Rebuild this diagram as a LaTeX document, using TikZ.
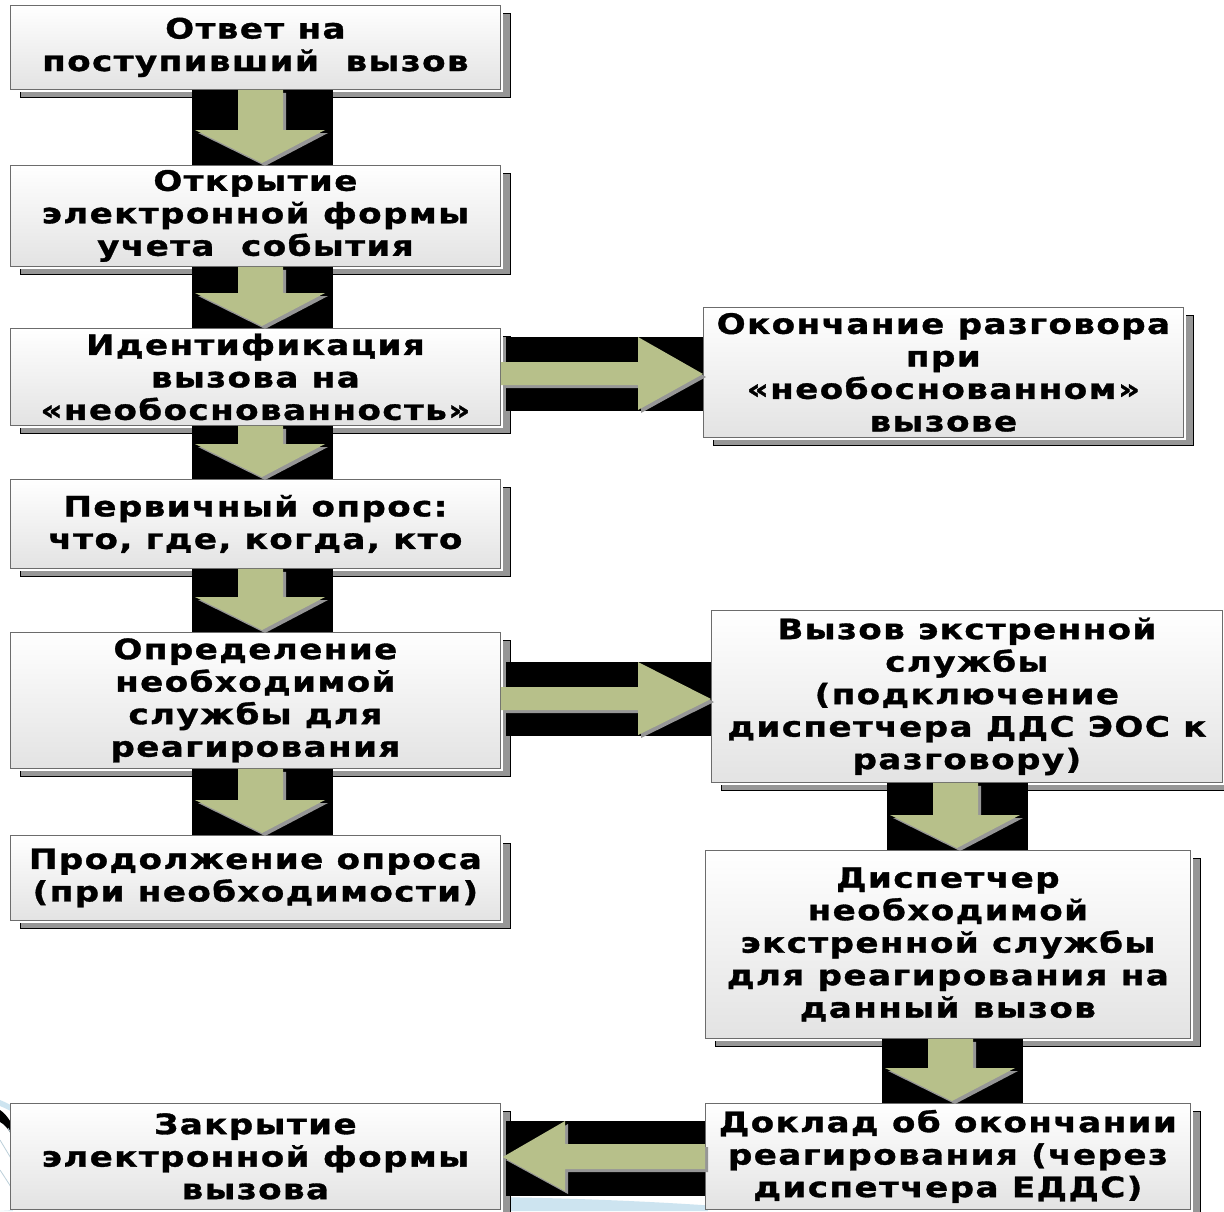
\documentclass[tikz,border=0pt]{standalone}
\usepackage{fontspec}
\newfontfamily\boxfont[FakeStretch=1.22,LetterSpace=5,FakeBold=1.2]{DejaVu Sans}
\usetikzlibrary{shadows,calc}
\definecolor{arrgreen}{RGB}{183,192,138}
\definecolor{shgray}{RGB}{150,150,150}
\definecolor{decoblue}{RGB}{205,228,240}
\newcommand\boxtext{\boxfont\bfseries\fontsize{28pt}{32.5pt}\selectfont}

\newcommand\dnarrow[3]{%
 \pgfmathsetmacro\aL{#1-70}\pgfmathsetmacro\aR{#1+71}%
 \pgfmathsetmacro\sL{#1-24}\pgfmathsetmacro\sR{#1+21}%
 \coordinate (dT) at (#1,0 |- #3.north);
 \coordinate (dH) at ($(dT)+(0,-35)$);
 \fill[band] (\aL,0 |- #2.south) rectangle (\aR,0 |- dT);
 \fill[gshadow] (\sL,0 |- #2.south) -- (\sR,0 |- #2.south) -- (\sR,0 |- dH) -- ($(dH)+(63,0)$) -- ($(dT)+(0,-2)$) -- ($(dH)+(-67,0)$) -- (\sL,0 |- dH) -- cycle;
 \fill[garrow] (\sL,0 |- #2.south) -- (\sR,0 |- #2.south) -- (\sR,0 |- dH) -- ($(dH)+(63,0)$) -- ($(dT)+(0,-2)$) -- ($(dH)+(-67,0)$) -- (\sL,0 |- dH) -- cycle;
}
\newcommand\rtarrow[4]{%
 \pgfmathsetmacro\bT{#1-37}\pgfmathsetmacro\bB{#1+37}%
 \pgfmathsetmacro\sT{#1-12}\pgfmathsetmacro\sB{#1+11}%
 \pgfmathsetmacro\hT{#1-37}\pgfmathsetmacro\hB{#1+36}%
 \fill[band] ($(#2.east |- 0,\bT)+(5,0)$) rectangle (#3.west |- 0,\bB);
 \fill[gshadow] (#2.east |- 0,\sT) -- (#4,\sT) -- (#4,\hT) -- (#3.west |- 0,#1) -- (#4,\hB) -- (#4,\sB) -- (#2.east |- 0,\sB) -- cycle;
 \fill[garrow] (#2.east |- 0,\sT) -- (#4,\sT) -- (#4,\hT) -- (#3.west |- 0,#1) -- (#4,\hB) -- (#4,\sB) -- (#2.east |- 0,\sB) -- cycle;
}
\newcommand\ltarrow[4]{%
 \pgfmathsetmacro\bT{#1-36}\pgfmathsetmacro\bB{#1+39}%
 \pgfmathsetmacro\sT{#1-13}\pgfmathsetmacro\sB{#1+12}%
 \pgfmathsetmacro\hT{#1-36}\pgfmathsetmacro\hB{#1+34}%
 \fill[band] ($(#3.east |- 0,\bT)+(5,0)$) rectangle (#2.west |- 0,\bB);
 \fill[gshadow] (#2.west |- 0,\sT) -- (#4,\sT) -- (#4,\hT) -- ($(#3.east |- 0,#1)+(2,0)$) -- (#4,\hB) -- (#4,\sB) -- (#2.west |- 0,\sB) -- cycle;
 \fill[garrow] (#2.west |- 0,\sT) -- (#4,\sT) -- (#4,\hT) -- ($(#3.east |- 0,#1)+(2,0)$) -- (#4,\hB) -- (#4,\sB) -- (#2.west |- 0,\sB) -- cycle;
}

\begin{document}
\begin{tikzpicture}[x=1pt,y=-1pt,
 box/.style={draw=gray!85!black, line width=0.8pt, top color=white, bottom color=gray!22,
   anchor=north west, inner sep=0pt, align=center, font=\boxtext,
   general shadow={fill=shgray, draw=black, line width=1pt, shadow xshift=10pt, shadow yshift=-8pt},
   general shadow={fill=white, shadow xshift=3pt, shadow yshift=-3pt}},
 band/.style={fill=black},
 garrow/.style={fill=arrgreen},
 gshadow/.style={fill=shgray, transform canvas={shift={(3pt,-3pt)}}}
]
\useasboundingbox (0,0) rectangle (1224,1211);
\fill[white] (0,0) rectangle (1224,1211);

% background decoration (slide template, bottom left)
\fill[decoblue] (0,1211) .. controls (250,1196) and (520,1188) .. (780,1211) -- cycle;
\fill[decoblue] (0,1100) .. controls (10,1104) and (20,1110) .. (30,1118) -- (30,1124) .. controls (20,1116) and (10,1110) .. (0,1106) -- cycle;
\fill[black] (0,1110) .. controls (6,1114) and (12,1122) .. (16,1134) -- (12,1136) .. controls (8,1128) and (4,1124) .. (0,1122) -- cycle;
\draw[decoblue!80!gray, line width=0.8pt] (0,1140) .. controls (15,1165) and (30,1190) .. (42,1211);
\draw[decoblue!80!gray, line width=0.8pt] (0,1170) .. controls (10,1185) and (18,1198) .. (24,1211);
\draw[decoblue!80!gray, line width=0.8pt] (8,1128) .. controls (25,1160) and (45,1190) .. (60,1211);

% left column
\node[box, minimum width=490, minimum height=84] (b1) at (10,5) {Ответ на\\поступивший~ вызов};
\node[box, minimum width=490, minimum height=101] (b2) at (10,165) {Открытие\\электронной формы\\учета~ события};
\node[box, minimum width=490, minimum height=97] (b3) at (10,328) {Идентификация\\вызова на\\«необоснованность»};
\node[box, minimum width=490, minimum height=89] (b4) at (10,479) {Первичный опрос:\\что, где, когда, кто};
\node[box, minimum width=490, minimum height=136] (b5) at (10,632) {Определение\\необходимой\\службы для\\реагирования};
\node[box, minimum width=490, minimum height=85] (b6) at (10,835) {Продолжение опроса\\(при необходимости)};
\node[box, minimum width=490, minimum height=106] (b7) at (10,1103) {Закрытие\\электронной формы\\вызова};

% right column
\node[box, minimum width=480, minimum height=130] (r1) at (703,307) {Окончание разговора\\при\\«необоснованном»\\вызове};
\node[box, minimum width=511, minimum height=172] (r2) at (711,610) {Вызов экстренной\\службы\\(подключение\\диспетчера ДДС ЭОС к\\разговору)};
\node[box, minimum width=485, minimum height=188] (r3) at (705,850) {Диспетчер\\необходимой\\экстренной службы\\для реагирования на\\данный вызов};
\node[box, minimum width=485, minimum height=106] (r4) at (705,1103) {Доклад об окончании\\реагирования (через\\диспетчера ЕДДС)};

% arrows
\dnarrow{262}{b1}{b2}
\dnarrow{262}{b2}{b3}
\dnarrow{262}{b3}{b4}
\dnarrow{262}{b4}{b5}
\dnarrow{262}{b5}{b6}
\dnarrow{957}{r2}{r3}
\dnarrow{952}{r3}{r4}
\rtarrow{374}{b3}{r1}{638}
\rtarrow{699}{b5}{r2}{638}
\ltarrow{1157}{r4}{b7}{565}
\end{tikzpicture}
\end{document}
